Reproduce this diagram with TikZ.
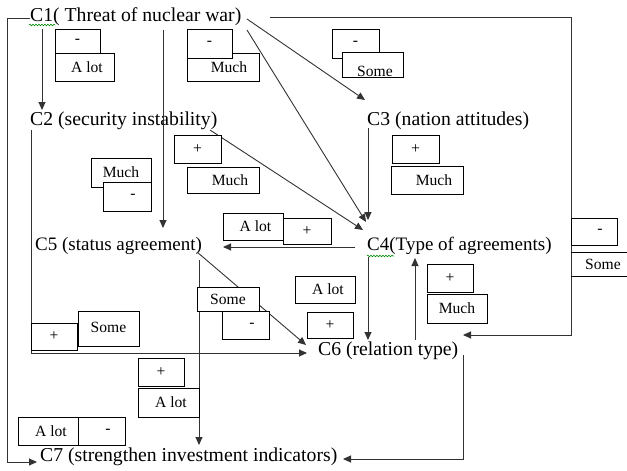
\documentclass[tikz,border=0pt]{standalone}
\usepackage{fontspec}
\setmainfont{Liberation Serif}
\usetikzlibrary{arrows.meta,calc,decorations.pathmorphing}
\begin{document}
\begin{tikzpicture}[x=1pt,y=-1pt,
  lbl/.style={anchor=west,inner sep=0pt,font=\fontsize{19.7}{22}\selectfont},
  lbln/.style={anchor=west,inner sep=0pt,font=\fontsize{19}{22}\selectfont},
  tag/.style={draw=black,line width=1pt,fill=white,inner sep=0pt,font=\fontsize{15.6}{18}\selectfont},
  tagtext/.style={inner sep=0pt,font=\fontsize{15.6}{18}\selectfont},
  conn/.style={draw=black!80,line width=0.9pt},
  arr/.style={conn,-{Triangle[length=8pt,width=7pt]}},
  squig/.style={draw=green!55!black,line width=0.6pt,decorate,decoration={snake,amplitude=0.8pt,segment length=3pt}}
]
\useasboundingbox (0,0) rectangle (627,471);
\fill[white] (0,0) rectangle (627,471);

% concept nodes
\node[lbl] (c1) at (30,17) {C1( Threat of nuclear war)};
\node[lbl] (c2) at (30,121) {C2 (security instability)};
\node[lbl] (c3) at (367,121) {C3 (nation attitudes)};
\node[lbln] (c4) at (367,246) {C4(Type of agreements)};
\node[lbln] (c5) at (35,246) {C5 (status agreement)};
\node[lbl] (c6) at (318,351) {C6 (relation type)};
\node[lbl] (c7) at (40,457) {C7 (strengthen investment indicators)};

% spell-check squiggles
\draw[squig] ($(c1.west)+(-1,8)$) -- ($(c1.west)+(25,8)$);
\draw[squig] ($(c4.west)+(0,10)$) -- ($(c4.west)+(27,10)$);

% connectors
\draw[arr] ($(c1.west)+(12,12)$) -- ($(c2.west)+(12,-11)$);
\draw[arr] ($(c1.west)+(133,13)$) -- ($(c5.west)+(128,-18)$);
\draw[arr] ($(c1.west)+(217,2)$) -- ($(c3.west)+(-2,-21)$);
\draw[arr] ($(c1.west)+(217,13)$) -- ($(c4.west)+(-1,-24)$);
\draw[arr] ($(c2.west)+(180,9)$) -- ($(c4.west)+(-4,-16)$);
\draw[arr] ($(c3.west)+(1,7)$) -- ($(c4.west)+(1,-26)$);
\draw[arr] ($(c4.west)+(-12,1)$) -- ($(c5.west)+(188,1)$);
\draw[arr] ($(c5.west)+(162,6)$) -- ($(c6.west)+(-12,-6)$);
\draw[arr] ($(c5.west)+(164,14)$) -- ($(c7.west)+(159,-12)$);
\draw[arr] ($(c2.west)+(1,9)$) |- ($(c6.west)+(-11,2)$);
\draw[arr] ($(c4.west)+(1,11)$) -- ($(c6.west)+(50,-11)$);
\draw[arr] ($(c6.west)+(97,-11)$) -- ($(c4.west)+(48,12)$);
\draw[arr] ($(c6.west)+(145,4)$) |- ($(c7.west)+(303,2)$);
\draw[arr] ($(c1.west)+(240,0)$) -| ($(c6.west)+(253,-16)$) -- ($(c6.west)+(145,-16)$);
\draw[arr] ($(c1.west)+(0,1)$) -| ($(c7.west)+(-33,5)$) -- ($(c7.west)+(-3,5)$);

% weight / sign boxes
\node[tag,minimum width=45pt,minimum height=24pt] (b1m) at (77.5,41) {-};
\node[tag,minimum width=59pt,minimum height=28pt] (b1a) at (84.5,67) {\hspace*{5pt}A lot};

\node[tag,minimum width=72pt,minimum height=28pt] (b2u) at (223,67) {\hspace*{12pt}Much};
\node[tag,minimum width=45pt,minimum height=29pt] (b2m) at (209.5,43.5) {-};

\node[tag,minimum width=47pt,minimum height=29pt] (b3m) at (355.5,43.5) {-};
\node[tag,draw=none,minimum width=60pt,minimum height=24pt] (b3s) at (373,65) {};
\begin{scope}
  \clip (343.5,53.5) rectangle (402.5,76.5);
  \node[tagtext,anchor=base] (b3st) at (375,76) {Some};
\end{scope}
\draw[line width=1pt] (b3s.north west) rectangle (b3s.south east);

\node[tag,minimum width=60pt,minimum height=29pt] (b4u) at (121,172.5) {Much};
\node[tag,minimum width=48pt,minimum height=29pt] (b4m) at (127,196.5) {\hspace*{12pt}-};

\node[tag,minimum width=47pt,minimum height=28pt] (b5p) at (197.5,149) {+};
\node[tag,minimum width=72pt,minimum height=26pt] (b5u) at (223,180) {\hspace*{14pt}Much};

\node[tag,minimum width=60pt,minimum height=27pt] (b6a) at (253,226.5) {\hspace*{5pt}A lot};
\node[tag,minimum width=48pt,minimum height=26pt] (b6p) at (307,231) {+};

\node[tag,minimum width=47pt,minimum height=28pt] (b7p) at (415.5,149) {+};
\node[tag,minimum width=72pt,minimum height=28pt] (b7u) at (427,180) {\hspace*{14pt}Much};

\node[tag,minimum width=46pt,minimum height=27pt] (b8m) at (594,231.5) {\hspace*{12pt}-};
\node[tagtext] (b8s) at (603,264) {Some};
\draw[line width=1pt] (571,252) -- (627,252);
\draw[line width=1pt] (571,276) -- (627,276);

\node[tag,minimum width=46pt,minimum height=28pt] (b9p) at (450,278) {+};
\node[tag,minimum width=60pt,minimum height=29pt] (b9u) at (457,308.5) {Much};

\node[tag,minimum width=60pt,minimum height=27pt] (b10a) at (325,289.5) {\hspace*{6pt}A lot};
\node[tag,minimum width=46pt,minimum height=26pt] (b10p) at (330,325) {+};

\node[tag,minimum width=47pt,minimum height=28pt] (b11m) at (245.5,325) {\hspace*{13pt}-};
\node[tag,minimum width=62pt,minimum height=24pt] (b11s) at (228,299) {Some};

\node[tag,minimum width=46pt,minimum height=27pt] (b12p) at (54,336.5) {+};
\node[tag,minimum width=61pt,minimum height=35pt] (b12s) at (108.5,328.5) {\raisebox{2pt}{Some}};

\node[tag,minimum width=46pt,minimum height=28pt] (b13p) at (161,372) {+};
\node[tag,minimum width=61pt,minimum height=29pt] (b13a) at (168.5,402.5) {\hspace*{5pt}A lot};

\node[tag,minimum width=60pt,minimum height=28pt] (b14a) at (48,431) {\hspace*{6pt}A lot};
\node[tag,minimum width=47pt,minimum height=28pt] (b14m) at (101.5,431) {\hspace*{13pt}-};
\end{tikzpicture}
\end{document}
